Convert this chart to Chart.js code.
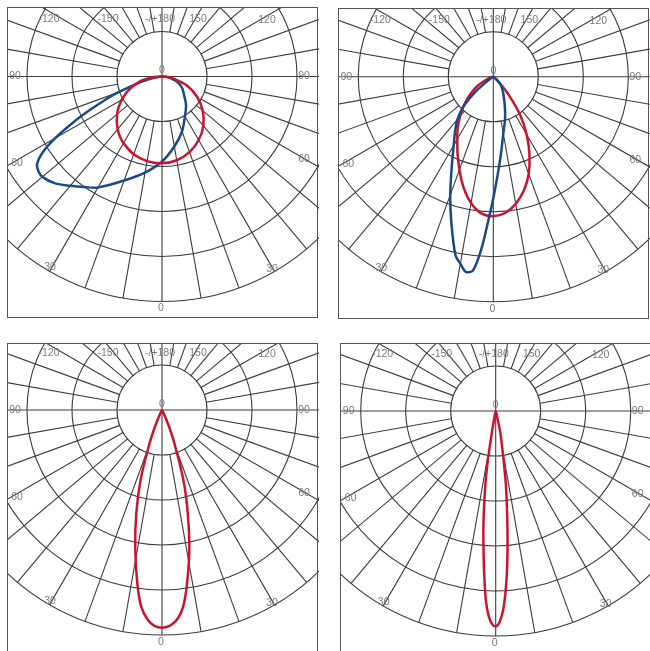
<!DOCTYPE html>
<html>
<head>
<meta charset="utf-8">
<script src="https://cdn.jsdelivr.net/npm/chart.js@4.4.1/dist/chart.umd.min.js"></script>
<style>
  html, body { margin: 0; padding: 0; background: #fff; overflow: hidden; }
  body { width: 650px; height: 651px; position: relative; }
  .panel { position: absolute; width: 311px; height: 311px; }
  .panel canvas { display: block; }
</style>
</head>
<body>
<div class="panel" style="left:7px; top:7px;"><canvas id="polar1" width="312" height="312"></canvas></div>
<div class="panel" style="left:338px; top:8px;"><canvas id="polar2" width="313" height="312"></canvas></div>
<div class="panel" style="left:7px; top:343px;"><canvas id="polar3" width="312" height="312"></canvas></div>
<div class="panel" style="left:340px; top:343px;"><canvas id="polar4" width="312" height="312"></canvas></div>
<script>
// gamma angle (0 = straight down, +/-90 = horizontal), intensity in ring units
const p1Angles = [-90, -85, -80, -75, -70, -67.5, -65, -62.5, -60, -57.5, -55, -52.5, -50, -45, -40, -35, -30, -20, -10, 0, 10, 20, 30, 40, 50, 60, 70, 80, 85, 90];
const p1Blue   = [0, 0.06, 0.20, 0.52, 1.05, 1.38, 1.78, 2.25, 2.74, 3.15, 3.39, 3.46, 3.47, 3.36, 3.17, 3.00, 2.85, 2.46, 2.17, 1.89, 1.58, 1.30, 1.02, 0.83, 0.64, 0.52, 0.37, 0.18, 0.09, 0];
const p1Red    = [0, 0.24, 0.41, 0.57, 0.73, 0.81, 0.88, 0.96, 1.03, 1.10, 1.17, 1.24, 1.30, 1.42, 1.53, 1.63, 1.71, 1.84, 1.91, 1.93, 1.89, 1.79, 1.63, 1.43, 1.18, 0.90, 0.59, 0.26, 0.10, 0];

const p2RedAngles = [-90, -80, -70, -60, -55, -50, -45, -40, -35, -30, -25, -20, -15, -10, -5, 0, 5, 10, 15, 20, 25, 30, 35, 40, 45, 50, 60, 90];
const p2Red       = [0, 0.03, 0.12, 0.40, 0.56, 0.74, 0.95, 1.15, 1.38, 1.60, 1.88, 2.20, 2.55, 2.85, 3.05, 3.10, 3.04, 2.87, 2.62, 2.30, 1.90, 1.48, 1.05, 0.55, 0.22, 0.10, 0.03, 0];
const p2BlueAngles = [-90, -60, -55, -50, -45, -40, -35, -30, -25, -20, -16, -12, -10, -8, -6, -4, -2, 0, 2, 4, 6, 10, 15, 20, 30, 40, 45, 50, 60, 90];
const p2Blue       = [0, 0, 0.10, 0.50, 0.94, 1.24, 1.48, 1.76, 2.18, 2.80, 3.38, 4.05, 4.22, 4.38, 4.33, 3.85, 3.20, 2.70, 2.28, 1.95, 1.68, 1.28, 1.00, 0.76, 0.45, 0.28, 0.20, 0.05, 0, 0];

const p3Angles = [-90, -30, -27, -24, -22, -20, -17, -14, -11, -8, -6, -4, -2, 0, 2, 4, 6, 8, 11, 14, 17, 20, 22, 24, 27, 30, 90];
const p3Red    = [0, 0.02, 0.06, 0.25, 0.52, 0.88, 1.63, 2.36, 3.12, 3.92, 4.40, 4.66, 4.80, 4.84, 4.80, 4.68, 4.42, 3.95, 3.18, 2.37, 1.63, 0.85, 0.55, 0.25, 0.05, 0.02, 0];

const p4Angles = [-90, -13, -11, -10, -9, -8, -7, -6, -5, -4, -3, -2, -1, 0, 1, 2, 3, 4, 5, 6, 7, 8, 9, 10, 12, 15, 90];
const p4Red    = [0, 0.05, 0.20, 0.50, 1.15, 1.65, 2.10, 2.62, 3.10, 3.65, 4.20, 4.55, 4.73, 4.79, 4.70, 4.47, 4.08, 3.58, 3.02, 2.47, 2.00, 1.60, 1.15, 0.85, 0.50, 0.10, 0];

// grid
const ringValues = [1, 2, 3, 4, 5];
const spokeAngles = [];
for (let a = -170; a <= 180; a += 10) spokeAngles.push(a);
const angleLabels = ["-120", "-150", "-/+180", "150", "120", "90", "90", "60", "60", "30", "30", "0", "0"];

const RED = "#c8142e";
const BLUE = "#1a4a85";
const GRID = "#3c3c3c";
const PX_PER_UNIT = 45;

// label offsets from the pole, in px (x right, y down)
const labelOffsets = [
  [-113, -57], [-54, -57], [-2, -57], [36, -57], [105, -56],
  [-147, 0], [142, 0], [-145, 87], [142, 83],
  [-112, 191], [110, 193], [-1, 232], [0, -6],
];

function toXY(angles, values) {
  return angles.map((a, i) => {
    const t = (a * Math.PI) / 180;
    return { x: values[i] * Math.sin(t), y: -values[i] * Math.cos(t) };
  });
}

const polarGrid = {
  id: "polarGrid",
  beforeDatasetsDraw(chart) {
    const { ctx, chartArea, scales } = chart;
    const cx = scales.x.getPixelForValue(0);
    const cy = scales.y.getPixelForValue(0);
    const unit = scales.x.getPixelForValue(1) - cx;
    ctx.save();
    ctx.beginPath();
    ctx.rect(chartArea.left, chartArea.top, chartArea.right - chartArea.left, chartArea.bottom - chartArea.top);
    ctx.clip();
    ctx.strokeStyle = GRID;
    ctx.lineWidth = 1.1;
    ringValues.forEach((r) => {
      ctx.beginPath();
      ctx.arc(cx, cy, r * unit, 0, Math.PI * 2);
      ctx.stroke();
    });
    const rMax = ringValues[ringValues.length - 1];
    spokeAngles.forEach((a) => {
      const t = (a * Math.PI) / 180;
      const r0 = a % 90 === 0 ? 0 : ringValues[0];
      ctx.beginPath();
      ctx.moveTo(cx + r0 * unit * Math.sin(t), cy + r0 * unit * Math.cos(t));
      ctx.lineTo(cx + rMax * unit * Math.sin(t), cy + rMax * unit * Math.cos(t));
      ctx.stroke();
    });
    // labels
    ctx.font = "10.5px 'Liberation Sans', Arial, sans-serif";
    ctx.textAlign = "center";
    ctx.textBaseline = "middle";
    ctx.fillStyle = "#7a7a7a";
    angleLabels.forEach((txt, i) => {
      const [dx, dy] = labelOffsets[i];
      ctx.fillText(txt, cx + dx, cy + dy);
    });
    ctx.restore();
  },
  afterDraw(chart) {
    const { ctx, chartArea } = chart;
    ctx.save();
    ctx.strokeStyle = "#555";
    ctx.lineWidth = 1;
    ctx.strokeRect(chartArea.left + 0.5, chartArea.top + 0.5, 310, 310);
    ctx.restore();
  },
};

function curve(data, color) {
  return {
    data,
    showLine: true,
    borderColor: color,
    borderWidth: 2.5,
    pointRadius: 0,
    tension: 0.3,
    fill: false,
  };
}

function makePolar(id, datasets, poleLeft, poleTop) {
  const canvas = document.getElementById(id);
  const w = canvas.width, h = canvas.height;
  new Chart(canvas.getContext("2d"), {
    type: "scatter",
    data: { datasets },
    options: {
      responsive: false,
      animation: false,
      layout: { padding: 0, autoPadding: false },
      plugins: { legend: { display: false }, tooltip: { enabled: false } },
      scales: {
        x: { display: false, min: -poleLeft / PX_PER_UNIT, max: (w - poleLeft) / PX_PER_UNIT },
        y: { display: false, min: -(h - poleTop) / PX_PER_UNIT, max: poleTop / PX_PER_UNIT },
      },
    },
    plugins: [polarGrid],
  });
}

makePolar("polar1", [curve(toXY(p1Angles, p1Red), RED), curve(toXY(p1Angles, p1Blue), BLUE)], 155, 69.5);
makePolar("polar2", [curve(toXY(p2BlueAngles, p2Blue), BLUE), curve(toXY(p2RedAngles, p2Red), RED)], 155.3, 68.7);
makePolar("polar3", [curve(toXY(p3Angles, p3Red), RED)], 155, 67);
makePolar("polar4", [curve(toXY(p4Angles, p4Red), RED)], 155.7, 68);
</script>
</body>
</html>
